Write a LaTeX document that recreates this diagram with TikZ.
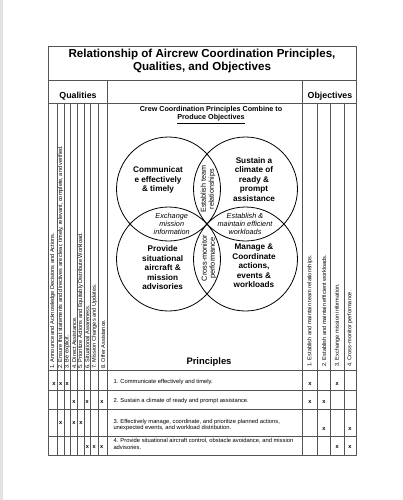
\documentclass[tikz,border=0pt]{standalone}
\usepackage{fontspec}
\setmainfont{Liberation Sans}
\definecolor{gridline}{HTML}{555555}
\definecolor{pagegray}{HTML}{E2E2E2}

\begin{document}
\begin{tikzpicture}[
  x=1pt,
  y=-1pt,
  line join=round,
  grid/.style={draw=gridline,line width=0.5pt},
  frame/.style={draw=gridline,line width=0.8pt},
  ring/.style={draw=black,line width=0.8pt},
  headtext/.style={font=\bfseries\fontsize{8.8}{10}\selectfont,inner sep=0pt},
  ringtext/.style={font=\bfseries\fontsize{8.2}{9.5}\selectfont,align=center,inner sep=0pt},
  lenstext/.style={font=\itshape\fontsize{7.3}{8}\selectfont,align=center,inner sep=0pt},
  sidetext/.style={font=\fontsize{5.6}{6}\selectfont,rotate=90,anchor=west,inner sep=0pt},
  rowtext/.style={font=\fontsize{5.8}{6.6}\selectfont,align=left,anchor=west,inner sep=0pt},
  tick/.style={font=\bfseries\fontsize{5.6}{6}\selectfont,inner sep=0pt}
]
  \useasboundingbox (0,0) rectangle (403,500);
  \fill[pagegray] (0,0) rectangle (2.5,500);

  % Outer frame, title band and header band.
  \draw[frame] (48.3,46) rectangle (356,455);
  \draw[grid] (48.3,80) -- (356,80);
  \draw[grid] (48.3,103) -- (356,103);
  \draw[grid] (107.7,80) -- (107.7,455);
  \draw[grid] (302.7,80) -- (302.7,455);

  % Principle rows run across the whole table.
  \foreach \ry in {370.7,390.5,409.5,436} {
    \draw[grid] (48.3,\ry) -- (356,\ry);
  }

  % Narrow columns for the qualities and the objectives.
  \foreach \cx in {57.3,64,70.7,77.3,84,90.7,98.3,317.3,330.7,344} {
    \draw[grid] (\cx,103) -- (\cx,455);
  }

  \node[font=\bfseries\fontsize{11.6}{13}\selectfont,align=center,inner sep=0pt] (title) at (202,61)
    {Relationship of Aircrew Coordination Principles,\\Qualities, and Objectives};
  \node[headtext] (qualhead) at (78,96) {Qualities};
  \node[headtext] (objhead) at (330,96) {Objectives};
  \node[font=\bfseries\fontsize{7.2}{8}\selectfont,align=center,inner sep=0pt] (combine) at (211,115)
    {Crew Coordination Principles Combine to\\\underline{Produce Objectives}};
  \node[font=\bfseries\fontsize{9.4}{10}\selectfont,inner sep=0pt] (principles) at (209,362) {Principles};

  % Four principle circles, each passing close to the common point P.
  \coordinate (P) at (207,224);
  \coordinate (TL) at (168.5,189);
  \coordinate (TR) at (245.5,189);
  \coordinate (BL) at (168.5,259);
  \coordinate (BR) at (245.5,259);
  \foreach \c in {TL,TR,BL,BR} {
    \draw[ring] (\c) circle[radius=52pt];
  }

  \node[ringtext] (communicate) at (158,180) {Communicat\\e effectively\\\& timely};
  \node[ringtext] (sustain) at (254,179.5) {Sustain a\\climate of\\ready \&\\prompt\\assistance};
  \node[ringtext] (provide) at (162.7,268) {Provide\\situational\\aircraft \&\\mission\\advisories};
  \node[ringtext] (manage) at (254,266) {Manage \&\\Coordinate\\actions,\\events \&\\workloads};

  % Objectives sit in the lenses between neighbouring circles.
  \node[font=\fontsize{7.2}{8}\selectfont,align=center,inner sep=0pt,rotate=90] (teamrel) at (208,189)
    {Establish team\\relationships};
  \node[font=\fontsize{7.4}{8}\selectfont,align=center,inner sep=0pt,rotate=90] (crossmon) at (209,258)
    {Cross-monitor\\performance};
  \node[lenstext] (exchange) at (171.7,224) {Exchange\\mission\\information};
  \node[lenstext] (workload) at (245,224) {Establish \&\\maintain efficient\\workloads};

  % Rotated column headings.
  \foreach \cx/\txt [count=\i] in {
      52.8/{1. Announce and Acknowledge Decisions and Actions.},
      60.7/{2. Ensure that statements and directives are clear, timely, relevant, complete, and verified.},
      67.3/{3. Be explicit.},
      74/{4. Direct Assistance.},
      80.7/{5. Prioritize Actions and Equitably Distribute Workload.},
      87.3/{6. Situational Awareness.},
      94.5/{7. Mission Changes and Updates.},
      103/{8. Offer Assistance.}} {
    \node[sidetext] (qual\i) at (\cx,369) {\txt};
  }
  \foreach \cx/\txt [count=\i] in {
      310/{1. Establish and maintain team relationships.},
      324/{2. Establish and maintain efficient workloads.},
      337.3/{3. Exchange mission information.},
      350/{4. Cross-monitor performance.}} {
    \node[sidetext] (obj\i) at (\cx,367) {\txt};
  }

  % Principle rows.
  \node[rowtext] (row1) at (113.3,381.5) {1. Communicate effectively and timely.};
  \node[rowtext] (row2) at (113.3,401) {2. Sustain a climate of ready and prompt assistance.};
  \node[rowtext] (row3) at (113.3,425)
    {3. Effectively manage, coordinate, and prioritize planned actions,\\unexpected events, and workload distribution.};
  \node[rowtext] (row4) at (113.3,444.2)
    {4. Provide situational aircraft control, obstacle avoidance, and mission\\advisories.};

  % Marks linking each principle to qualities and objectives.
  \foreach \mx/\my [count=\i] in {
      54/384, 60.7/384, 67.3/384, 310/384, 337.3/384,
      74/402, 87.3/402, 102/402, 310/402, 324/402,
      60.7/422.7, 74/422.7, 80.9/422.7, 324/429, 350/429.5,
      87.5/447, 94.3/447, 101.7/447, 337.3/447, 350/447} {
    \node[tick] (mark\i) at (\mx,\my) {x};
  }
\end{tikzpicture}
\end{document}
